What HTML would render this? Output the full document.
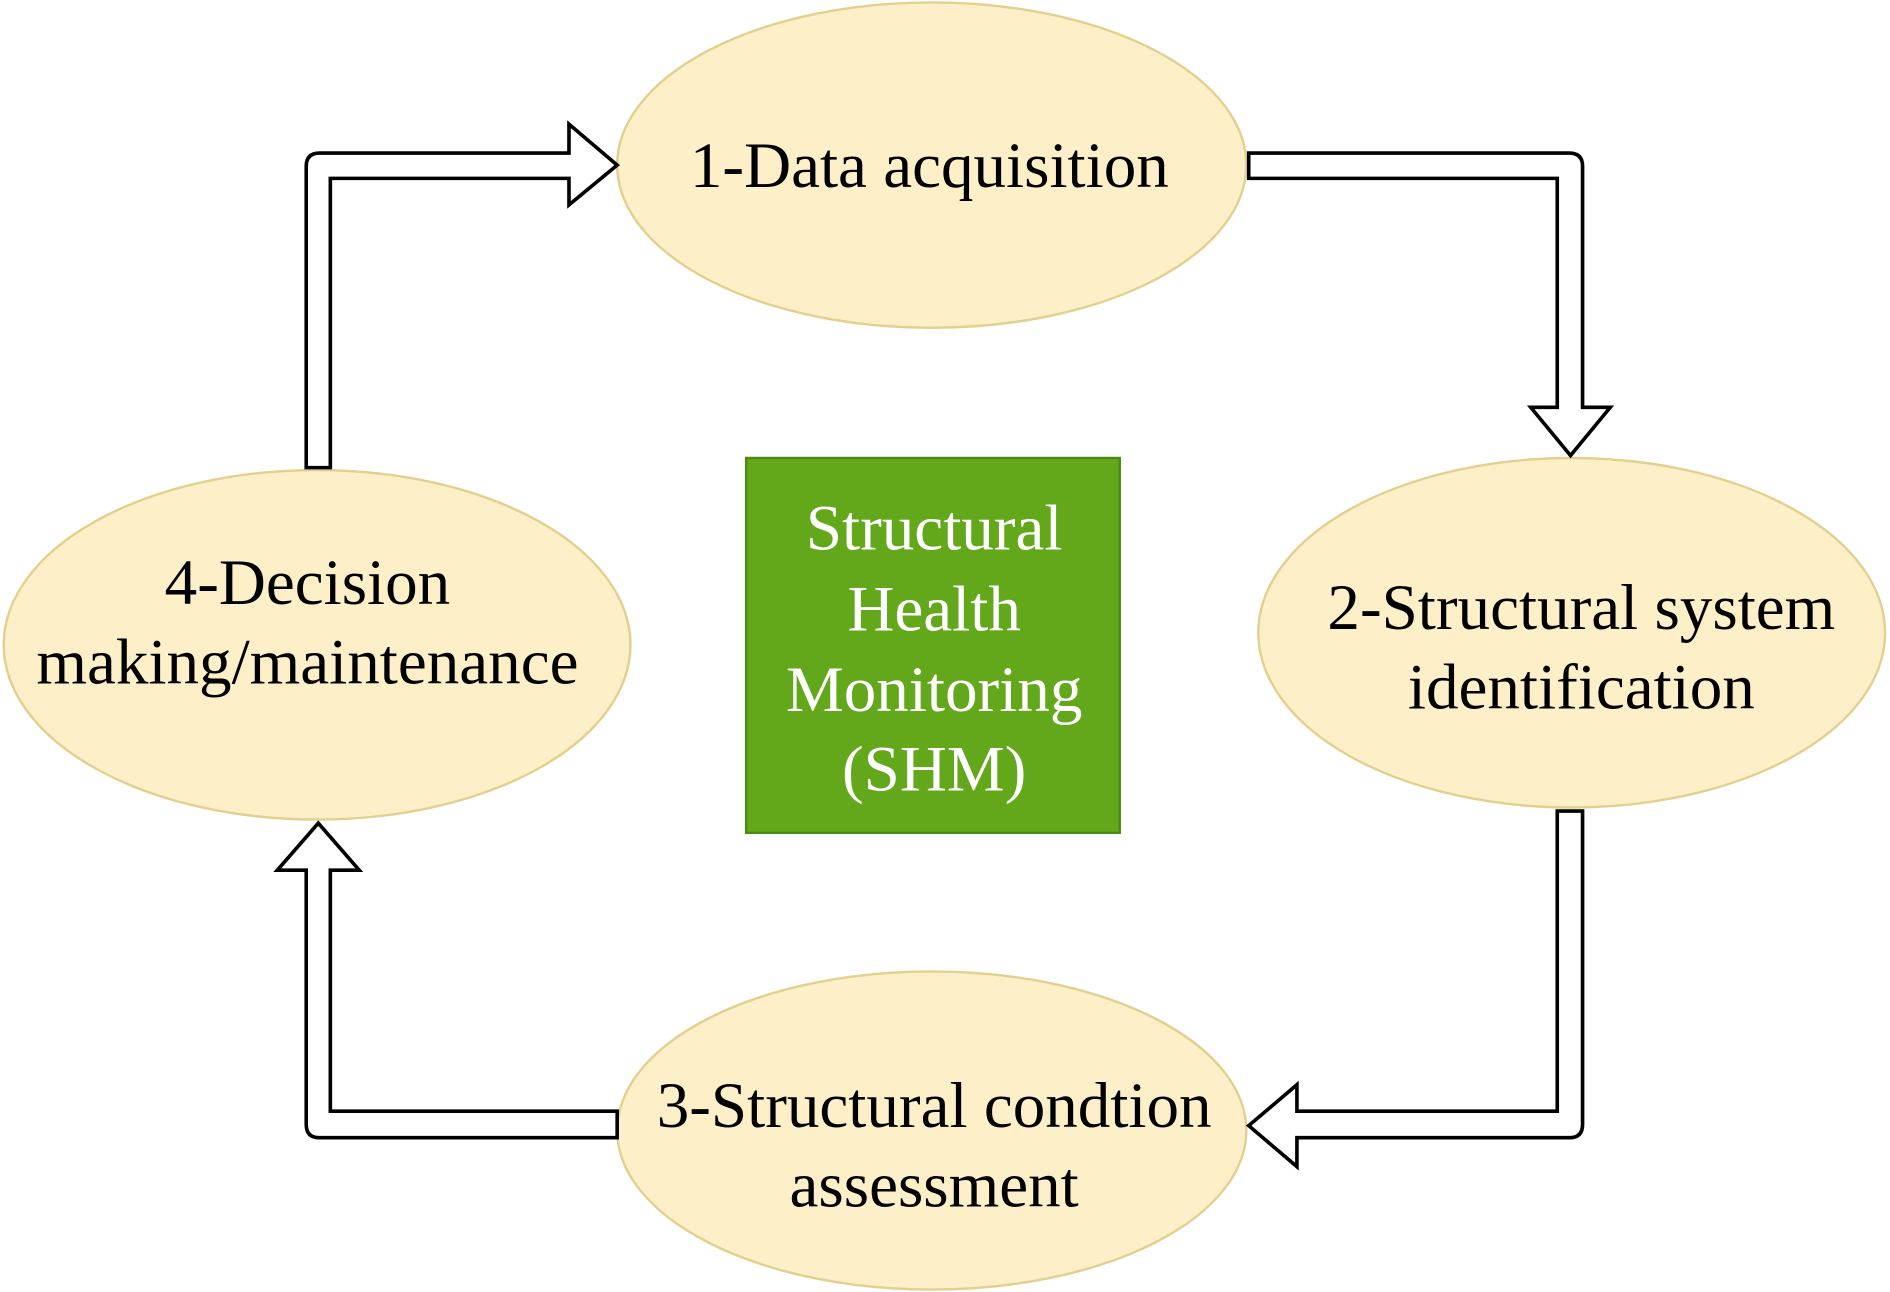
<!DOCTYPE html>
<html><head><meta charset="utf-8"><style>html,body{margin:0;padding:0;background:#fff}svg{display:block}</style></head>
<body>
<svg width="1890" height="1292" viewBox="0 0 1568 1072" xmlns="http://www.w3.org/2000/svg">
<g fill="#fdf0c9" stroke="#e2d08f" stroke-width="2">
<ellipse cx="773" cy="137" rx="261" ry="135"/>
<ellipse cx="1304" cy="525" rx="260" ry="145"/>
<ellipse cx="773" cy="938" rx="261" ry="132"/>
<ellipse cx="263" cy="535" rx="260" ry="145"/>
</g>
<rect x="619" y="380" width="310" height="311" fill="#62a81a" stroke="#4a8a10" stroke-width="2"/>
<g fill="#fff" stroke="#000" stroke-width="3" stroke-linejoin="miter">
<path d="M254,388 L254,138 Q254,127 265,127 L472,127 L472,103 L512,137 L472,170 L472,148 L274,148 L274,388 Z"/>
<path d="M1036,127 L1302,127 Q1313,127 1313,138 L1313,338 L1336,338 L1303,378 L1270,338 L1292,338 L1292,148 L1036,148 Z"/>
<path d="M1292,673 L1313,673 L1313,933 Q1313,944 1302,944 L1076,944 L1076,968 L1036,934 L1076,900 L1076,922 L1292,922 Z"/>
<path d="M512,922 L274,922 L274,722 L298,722 L264,683 L230,722 L254,722 L254,933 Q254,944 265,944 L512,944 Z"/>
</g>
<g font-family="'Liberation Serif', serif" font-size="54" text-anchor="middle" fill="#000">
<text x="771" y="155">1-Data acquisition</text>
<text x="1312" y="522">2-Structural system</text>
<text x="1312" y="588">identification</text>
<text x="775" y="935">3-Structural condtion</text>
<text x="775" y="1001">assessment</text>
<text x="255" y="501">4-Decision</text>
<text x="255" y="567">making/maintenance</text>
</g>
<g font-family="'Liberation Serif', serif" font-size="54" text-anchor="middle" fill="#fff">
<text x="775" y="456">Structural</text>
<text x="775" y="523">Health</text>
<text x="775" y="590">Monitoring</text>
<text x="775" y="656">(SHM)</text>
</g>
</svg>
</body></html>
